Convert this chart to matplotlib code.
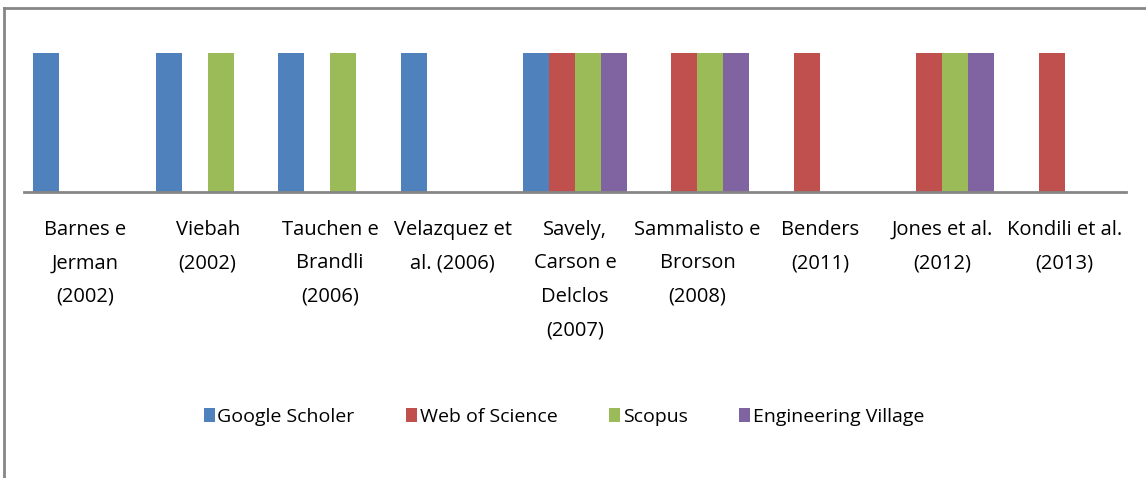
import matplotlib
matplotlib.use("Agg")
import matplotlib.pyplot as plt
import numpy as np
from matplotlib.lines import Line2D

plt.rcParams['font.family'] = ['Open Sans', 'DejaVu Sans']

categories = ["Barnes e\nJerman\n(2002)", "Viebah\n(2002)", "Tauchen e\nBrandli\n(2006)",
              "Velazquez et\nal. (2006)", "Savely,\nCarson e\nDelclos\n(2007)",
              "Sammalisto e\nBrorson\n(2008)", "Benders\n(2011)", "Jones et al.\n(2012)",
              "Kondili et al.\n(2013)"]
series_names = ["Google Scholer", "Web of Science", "Scopus", "Engineering Village"]
google = [1, 1, 1, 1, 1, 0, 0, 0, 0]
wos = [0, 0, 0, 0, 1, 1, 1, 1, 1]
scopus = [0, 1, 1, 0, 1, 1, 0, 1, 0]
engvillage = [0, 0, 0, 0, 1, 1, 0, 1, 0]
colors = ["#4F81BD", "#C0504D", "#9BBB59", "#8064A2"]

W, H = 1146, 478
fig = plt.figure(figsize=(W/100, H/100), dpi=100)
ax = fig.add_axes([24/W, 1-192/H, (1126-24)/W, (192-53)/H])

x = np.arange(len(categories))
bw = 0.2124
values = [google, wos, scopus, engvillage]
for i, (vals, c, name) in enumerate(zip(values, colors, series_names)):
    ax.bar(x + (i-1.5)*bw, vals, width=bw, color=c, label=name, linewidth=0)

ax.set_xlim(-0.5, len(categories)-0.5)
ax.set_ylim(0, 1)
ax.set_yticks([])
ax.set_xticks(x)
ax.set_xticklabels(categories, fontsize=14.5, linespacing=1.9, va='top')
ax.tick_params(axis='x', length=0, pad=20)
for s in ['top', 'right', 'left']:
    ax.spines[s].set_visible(False)
ax.spines['bottom'].set_color('#868686')
ax.spines['bottom'].set_linewidth(2)

leg = fig.legend(loc='center', bbox_to_anchor=(564/W, 1-417/H), ncol=4, frameon=False,
                 fontsize=14, handlelength=0.55, handleheight=0.75, handletextpad=0.15,
                 columnspacing=2.65)

fig.add_artist(Line2D([4/W, 4/W], [0, 1-8/H], color='#868686', linewidth=2, transform=fig.transFigure))
fig.add_artist(Line2D([4/W, 1], [1-8/H, 1-8/H], color='#868686', linewidth=2, transform=fig.transFigure))

fig.savefig("out.png", dpi=100)
